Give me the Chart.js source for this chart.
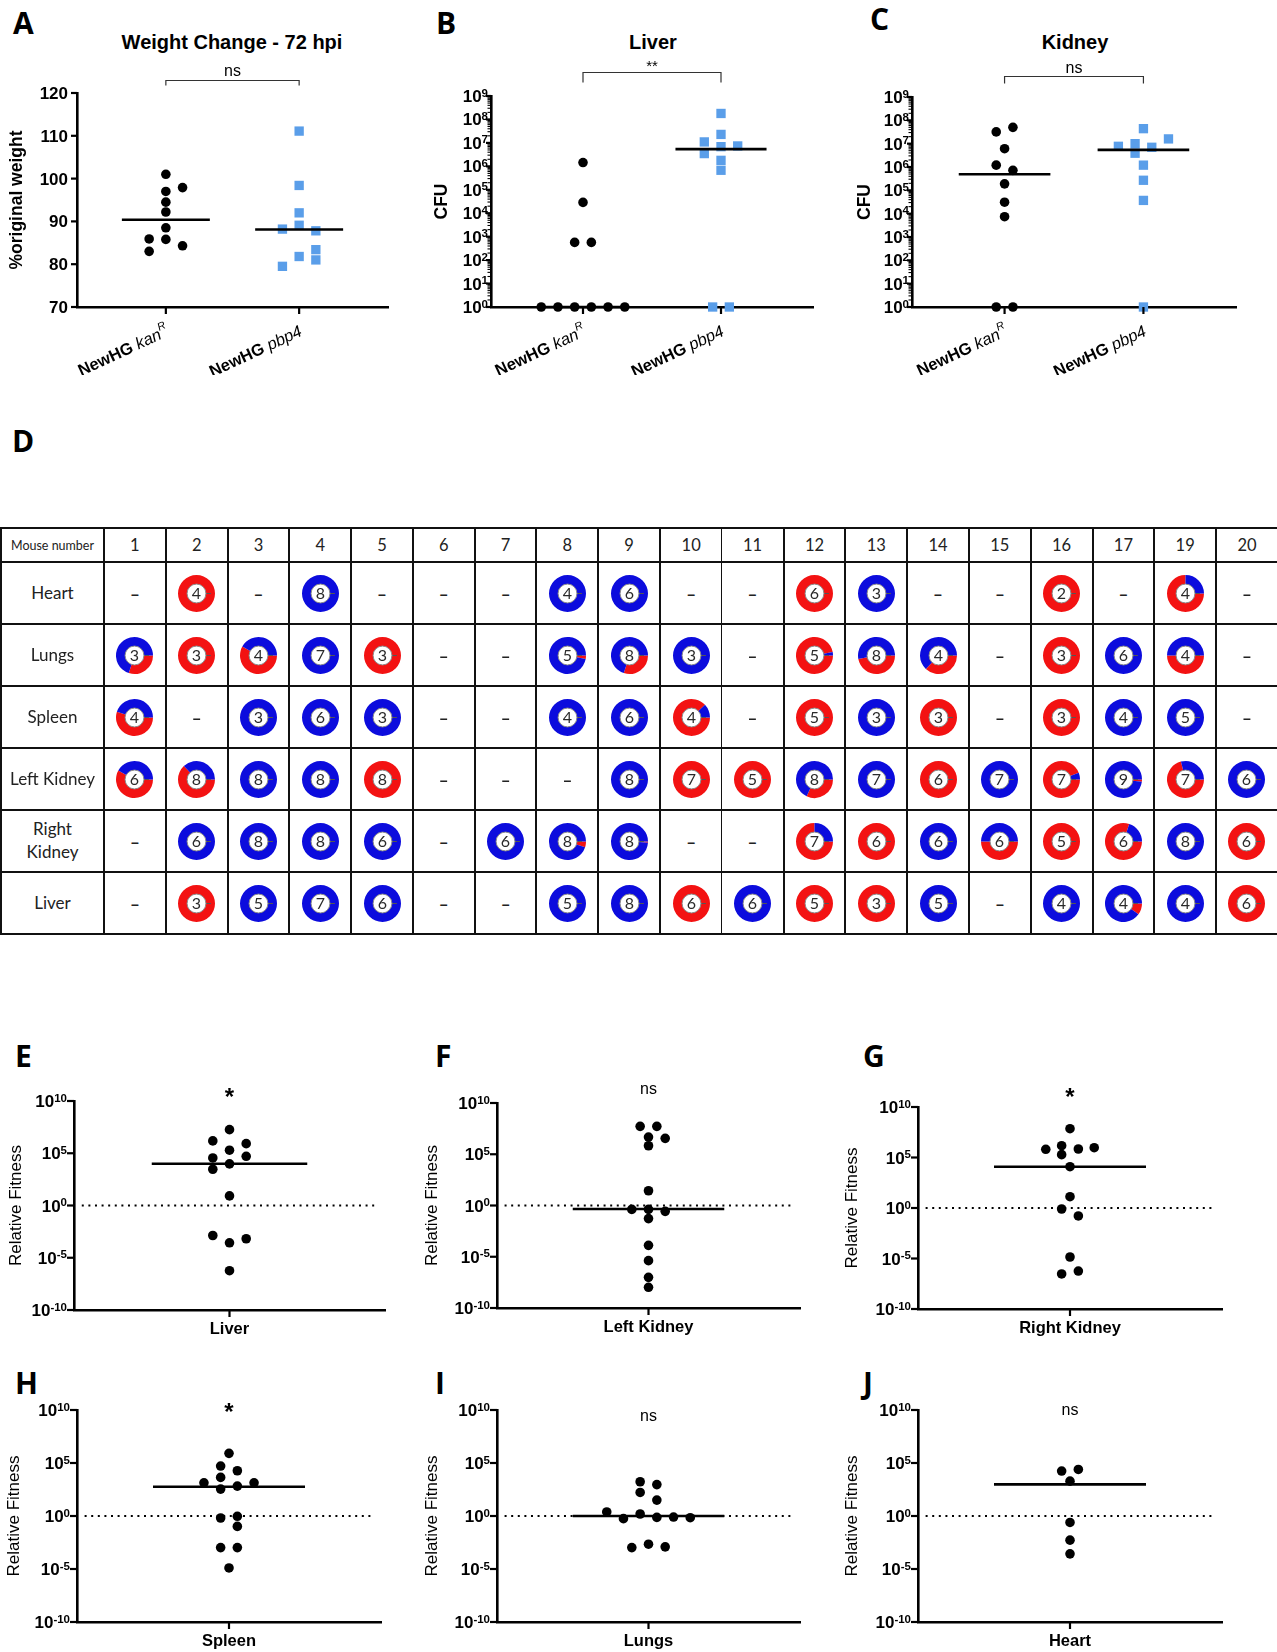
<!DOCTYPE html>
<html lang="en">
<head>
<meta charset="UTF-8" />
<title>NewHG kanR vs pbp4 – weight, CFU, colony ratios, relative fitness</title>
<script src="https://cdn.jsdelivr.net/npm/chart.js"></script>
<style>
  body { margin: 0; background: #fff; }
  #fig { position: relative; width: 1277px; height: 1652px; overflow: hidden; background: #fff;
         font-family: "Liberation Sans", Arial, sans-serif; color: #000; }
  .letter { position: absolute; font-family: "Open Sans", sans-serif; font-weight: 700; font-size: 30px; line-height: 1; }
  .title { position: absolute; white-space: nowrap; transform: translate(-50%, -50%); font-weight: 700; font-size: 20px; }
  canvas.panel { position: absolute; }
  #tbl { position: absolute; left: 0; top: 527px; width: 1277px; border-collapse: collapse; table-layout: fixed;
         font-family: Lato, "Open Sans", sans-serif; color: #222; }
  #tbl td { border: 2px solid #111; text-align: center; vertical-align: middle; padding: 0; }
  #tbl tr.head td { height: 32px; font-size: 16.5px; }
  #tbl tr.body td { height: 60px; }
  #tbl td.organ { font-size: 17px; line-height: 1.35; }
  #tbl tr.head td.corner { font-size: 12.5px; white-space: nowrap; }
  #tbl td .dash { font-weight: 700; font-size: 17px; }
  #tbl td canvas { display: block; margin: 0 auto; }
  #tbl td.thinR { border-right-width: 1px; }
  #tbl td.thinL { border-left-width: 1px; }
</style>
</head>
<body>
<div id="fig">
  <div class="letter" style="left:13px; top:8px;">A</div>
  <div class="letter" style="left:436px; top:8px;">B</div>
  <div class="letter" style="left:870px; top:4px;">C</div>
  <div class="letter" style="left:12px; top:426px;">D</div>
  <div class="letter" style="left:15px; top:1041px;">E</div>
  <div class="letter" style="left:435px; top:1041px;">F</div>
  <div class="letter" style="left:863px; top:1041px;">G</div>
  <div class="letter" style="left:15px; top:1368px;">H</div>
  <div class="letter" style="left:435px; top:1368px;">I</div>
  <div class="letter" style="left:863px; top:1368px;">J</div>

  <div class="title" style="left:232px; top:42px;">Weight Change - 72 hpi</div>
  <div class="title" style="left:653px; top:42px;">Liver</div>
  <div class="title" style="left:1075px; top:42px;">Kidney</div>

  <table id="tbl"></table>
</div>

<script>
  // ---------------- data ----------------
  // A: weight at 72 hpi, % of original weight (jitter = sideways offset in dot widths)
  const weightTicks = [70, 80, 90, 100, 110, 120];
  const weightKan = [101.0, 97.9, 97.0, 94.5, 92.2, 88.5, 85.9, 85.8, 84.3, 83.0];
  const weightKanJitter = [0, 1, 0, 0, 0, 0, -1, 0, 1, -1];
  const weightKanMedian = 90.4;
  const weightPbp4 = [111.1, 98.4, 92.0, 89.1, 88.2, 87.8, 83.4, 81.8, 81.0, 79.5];
  const weightPbp4Jitter = [0, 0, 0, 0, -1, 1, 1, 0, 1, -1];
  const weightPbp4Median = 88.1;

  // B: liver CFU
  const cfuTicks = [1, 1e1, 1e2, 1e3, 1e4, 1e5, 1e6, 1e7, 1e8, 1e9];
  const liverKan = [1.45e6, 2.9e4, 570, 570, 1, 1, 1, 1, 1, 1];
  const liverKanJitter = [0, 0, -0.5, 0.5, -2.5, -1.5, -0.5, 0.5, 1.5, 2.5];
  const liverKanMedian = 1;
  const liverPbp4 = [1.8e8, 2.3e7, 1.1e7, 6.9e6, 7.4e6, 3.5e6, 1.8e6, 6.8e5, 1, 1];
  const liverPbp4Jitter = [0, 0, -1, 0, 1, -1, 0, 0, -0.5, 0.5];
  const liverPbp4Median = 5.4e6;

  // C: kidney CFU
  const kidneyKan = [5.0e7, 3.2e7, 6.1e6, 1.2e6, 7.2e5, 1.9e5, 3.1e4, 7.4e3, 1, 1];
  const kidneyKanJitter = [0.5, -0.5, 0, -0.5, 0.5, 0, 0, 0, -0.5, 0.5];
  const kidneyKanMedian = 4.9e5;
  const kidneyPbp4 = [4.4e7, 1.6e7, 1.0e7, 7.7e6, 7.0e6, 3.9e6, 1.2e6, 2.7e5, 3.7e4, 1];
  const kidneyPbp4Jitter = [0, 1.5, -0.5, -1.5, 0.5, -0.5, 0, 0, 0, 0];
  const kidneyPbp4Median = 5.4e6;

  // D: colonies per organ per mouse (null = none) and red share of each pie
  const mice = ['1', '2', '3', '4', '5', '6', '7', '8', '9', '10', '11', '12', '13', '14', '15', '16', '17', '19', '20'];
  const organs = ['Heart', 'Lungs', 'Spleen', 'Left Kidney', 'Right<br>Kidney', 'Liver'];
  const heartN = [null, 4, null, 8, null, null, null, 4, 6, null, null, 6, 3, null, null, 2, null, 4, null];
  const heartRed = [0, 1, 0, 0, 0, 0, 0, 0, 0, 0, 0, 1, 0, 0, 0, 1, 0, 0.75, 0];
  const lungsN = [3, 3, 4, 7, 3, null, null, 5, 8, 3, null, 5, 8, 4, null, 3, 6, 4, null];
  const lungsRed = [0.3, 1, 0.58, 0, 1, 0, 0, 0.03, 0.3, 0, 0, 0.97, 0.47, 0.37, 0, 1, 0, 0.5, 0];
  const spleenN = [4, null, 3, 6, 3, null, null, 4, 6, 4, null, 5, 3, 3, null, 3, 4, 5, null];
  const spleenRed = [0.55, 0, 0, 0, 0, 0, 0, 0, 0, 0.88, 0, 1, 0, 1, 0, 1, 0, 0, 0];
  const leftKidneyN = [6, 8, 8, 8, 8, null, null, null, 8, 7, 5, 8, 7, 6, 7, 7, 9, 7, 6];
  const leftKidneyRed = [0.58, 0.63, 0, 0, 1, 0, 0, 0, 0, 1, 1, 0.32, 0, 1, 0, 0.94, 0.02, 0.71, 0];
  const rightKidneyN = [null, 6, 8, 8, 6, null, 6, 8, 8, null, null, 7, 6, 6, 6, 5, 6, 8, 6];
  const rightKidneyRed = [0, 0, 0, 0, 0, 0, 0, 0.05, 0.01, 0, 0, 0.75, 1, 0, 0.5, 1, 0.8, 0, 1];
  const liverN = [null, 3, 5, 7, 6, null, null, 5, 8, 6, 6, 5, 3, 5, null, 4, 4, 4, 6];
  const liverRed = [0, 1, 0, 0, 0, 0, 0, 0, 0, 1, 0, 1, 1, 0, 0, 0, 0.1, 0, 1];

  // E-J: relative fitness, stored as log10 values
  const fitnessTicks = [1e-10, 1e-5, 1, 1e5, 1e10];
  const liverFitLog = [7.26, 6.18, 5.92, 5.29, 4.71, 4.55, 3.98, 3.47, 0.92, -2.87, -3.18, -3.57, -6.24];
  const liverFitJitter = [0, -1, 1, 0, 1, -1, 0, -1, 0, -1, 1, 0, 0];
  const liverFitMedianLog = 4.0;
  const leftKidneyFitLog = [7.72, 7.72, 6.68, 6.55, 5.83, 1.44, -0.38, -0.38, -0.57, -1.28, -3.89, -5.38, -7.01, -7.98];
  const leftKidneyFitJitter = [-0.5, 0.5, 0, 1, 0, 0, -1, 0, 1, 0, 0, 0, 0, 0];
  const leftKidneyFitMedianLog = -0.34;
  const rightKidneyFitLog = [7.85, 6.17, 5.81, 5.84, 5.97, 5.28, 4.09, 1.12, -0.10, -0.79, -4.85, -6.24, -6.53];
  const rightKidneyFitJitter = [0, -0.5, -1.45, 0.5, 1.45, -0.5, 0, 0, -0.5, 0.5, 0, 0.5, -0.5];
  const rightKidneyFitMedianLog = 4.09;
  const spleenFitLog = [5.91, 4.71, 4.27, 3.64, 3.13, 3.13, 2.82, 2.54, -0.03, -0.19, -0.98, -2.98, -2.98, -4.9];
  const spleenFitJitter = [0, -0.5, 0.5, -0.5, -1.5, 1.5, 0.5, -0.5, 0.5, -0.5, 0.5, -0.5, 0.5, 0];
  const spleenFitMedianLog = 2.76;
  const lungsFitLog = [3.23, 2.96, 2.22, 1.5, 0.38, 0.19, -0.25, -0.13, -0.1, -0.16, -2.66, -2.98, -2.91];
  const lungsFitJitter = [-0.5, 0.5, -0.5, 0.5, -2.5, -0.5, -1.5, 0.5, 1.5, 2.5, 0, -1, 1];
  const lungsFitMedianLog = 0;
  const heartFitLog = [4.24, 4.39, 3.29, -0.61, -2.28, -3.57];
  const heartFitJitter = [-0.5, 0.5, 0, 0, 0, 0];
  const heartFitMedianLog = 2.98;

  // ---------------- drawing ----------------
  const FONT = '"Liberation Sans", Arial, sans-serif';
  const BLACK = '#000000';
  const SQUARE_BLUE = '#5a9ee9';
  const PIE_RED = '#f31212';
  const PIE_BLUE = '#0c0cdd';
  const STEP_PX = 16.7;
  const fig = document.getElementById('fig');
  const pow10 = v => Math.pow(10, v);

  const kanLabel = [
    {t: 'NewHG ', f: 'bold 16.5px ' + FONT},
    {t: 'kan', f: 'italic 16.5px ' + FONT},
    {t: 'R', f: 'italic 11px ' + FONT, dy: -8}
  ];
  const pbpLabel = [
    {t: 'NewHG ', f: 'bold 16.5px ' + FONT},
    {t: 'pbp4', f: 'italic 16.5px ' + FONT}
  ];

  function drawParts(ctx, parts, x, y, align) {
    let w = 0;
    parts.forEach(p => { ctx.font = p.f; w += ctx.measureText(p.t).width; });
    let cx = align === 'right' ? x - w : align === 'center' ? x - w / 2 : x;
    ctx.textAlign = 'left';
    parts.forEach(p => {
      ctx.font = p.f;
      ctx.fillText(p.t, cx, y + (p.dy || 0));
      cx += ctx.measureText(p.t).width;
    });
  }

  function panelDeco(cfg) {
    return {
      id: 'panelDeco',
      afterDraw(chart) {
        const ctx = chart.ctx, xs = chart.scales.x, ys = chart.scales.y, ca = chart.chartArea;
        const top = cfg.box.top, left = cfg.box.left;
        const seg = (x1, y1, x2, y2, w) => {
          ctx.lineWidth = w; ctx.beginPath(); ctx.moveTo(x1, y1); ctx.lineTo(x2, y2); ctx.stroke();
        };
        ctx.save();
        ctx.fillStyle = '#000'; ctx.strokeStyle = '#000';

        // minor log ticks
        if (cfg.minorTicks) {
          const lo = Math.round(Math.log10(cfg.yMin)), hi = Math.round(Math.log10(cfg.yMax));
          for (let d = lo; d < hi; d++) {
            for (let k = 2; k <= 9; k++) {
              const y = ys.getPixelForValue(k * pow10(d));
              seg(ca.left - 3.5, y, ca.left, y, 1.1);
            }
          }
        }
        // major ticks and labels
        ctx.textBaseline = 'alphabetic';
        cfg.yTicks.forEach(v => {
          const y = ys.getPixelForValue(v);
          seg(ca.left - cfg.tickLen, y, ca.left, y, 2.2);
          let parts;
          if (cfg.yType === 'logarithmic') {
            parts = [{t: '10', f: 'bold 17px ' + FONT, dy: 6},
                     {t: String(Math.round(Math.log10(v))), f: 'bold 11.5px ' + FONT, dy: 0.5}];
          } else {
            parts = [{t: String(v), f: 'bold 17px ' + FONT, dy: 6}];
          }
          drawParts(ctx, parts, ca.left - cfg.labelGap, y, 'right');
        });

        // category ticks and labels
        cfg.cats.forEach((cat, i) => {
          const x = xs.getPixelForValue(cat);
          seg(x, ca.bottom, x, ca.bottom + 7, 2.2);
          if (cfg.rotateLabels) {
            ctx.save();
            ctx.translate(x + 4, ca.bottom + 28);
            ctx.rotate(-25 * Math.PI / 180);
            drawParts(ctx, cfg.catLabels[i], 0, 0, 'right');
            ctx.restore();
          } else {
            drawParts(ctx, cfg.catLabels[i], x, ca.bottom + 24, 'center');
          }
        });

        // y title
        ctx.save();
        ctx.translate(cfg.yTitle.x - left, (ca.top + ca.bottom) / 2);
        ctx.rotate(-Math.PI / 2);
        ctx.font = cfg.yTitle.font; ctx.textAlign = 'center'; ctx.textBaseline = 'middle';
        ctx.fillText(cfg.yTitle.text, 0, 0);
        ctx.restore();

        // significance bracket and label
        let midX = xs.getPixelForValue(cfg.cats[0]);
        if (cfg.bracket) {
          const x1 = xs.getPixelForValue(cfg.cats[0]), x2 = xs.getPixelForValue(cfg.cats[1]);
          const y = cfg.bracket.y - top + 0.5;
          midX = (x1 + x2) / 2;
          ctx.strokeStyle = '#333'; ctx.lineWidth = 1.2;
          ctx.beginPath();
          ctx.moveTo(x1, y + cfg.bracket.drop); ctx.lineTo(x1, y); ctx.lineTo(x2, y); ctx.lineTo(x2, y + cfg.bracket.drop);
          ctx.stroke();
        }
        ctx.font = cfg.sig.font; ctx.textAlign = 'center'; ctx.textBaseline = 'middle';
        ctx.fillText(cfg.sig.text, midX, cfg.sig.y - top);
        ctx.restore();
      }
    };
  }

  function makePanel(cfg) {
    const c = document.createElement('canvas');
    c.className = 'panel';
    c.width = cfg.box.width; c.height = cfg.box.height;
    c.style.left = cfg.box.left + 'px'; c.style.top = cfg.box.top + 'px';
    fig.appendChild(c);
    const pxPerUnit = (cfg.plot.right - cfg.plot.left) / (cfg.xMax - cfg.xMin);

    const datasets = [];
    cfg.groups.forEach(g => {
      datasets.push({
        type: 'scatter',
        data: g.values.map((v, i) => ({x: g.cat + g.jitter[i] * STEP_PX / pxPerUnit, y: v})),
        pointStyle: g.shape, pointRadius: g.shape === 'rect' ? 6.6 : 4.8,
        backgroundColor: g.color, borderWidth: 0, clip: false, order: 2
      });
      datasets.push({
        type: 'line',
        data: [{x: g.cat - cfg.medianHalf, y: g.median}, {x: g.cat + cfg.medianHalf, y: g.median}],
        borderColor: BLACK, borderWidth: 2.6, pointRadius: 0, clip: false, order: 1
      });
    });
    if (cfg.refLine) {
      datasets.push({
        type: 'line',
        data: [{x: cfg.refLine.from, y: cfg.refLine.y}, {x: cfg.refLine.to, y: cfg.refLine.y}],
        borderColor: BLACK, borderWidth: 2, borderDash: [2, 4.6], pointRadius: 0, order: 3
      });
    }

    new Chart(c, {
      type: 'scatter',
      data: {datasets},
      options: {
        responsive: false, animation: false, events: [],
        layout: {padding: {top: cfg.plot.top - cfg.box.top, right: cfg.box.left + cfg.box.width - cfg.plot.right, left: 0, bottom: 0}},
        plugins: {legend: {display: false}, tooltip: {enabled: false}},
        scales: {
          x: {
            type: 'linear', min: cfg.xMin, max: cfg.xMax,
            ticks: {display: false}, grid: {display: false},
            border: {display: true, color: BLACK, width: 2.6},
            afterFit: s => { s.height = cfg.box.top + cfg.box.height - cfg.plot.bottom; }
          },
          y: {
            type: cfg.yType, min: cfg.yMin, max: cfg.yMax,
            ticks: {display: false}, grid: {display: false},
            border: {display: true, color: BLACK, width: 2.6},
            afterFit: s => { s.width = cfg.plot.left - cfg.box.left; }
          }
        }
      },
      plugins: [panelDeco(cfg)]
    });
  }

  // ----- A, B, C -----
  const groupPanel = (box, plot, yType, yMin, yMax, yTicks, extra) => Object.assign({
    box, plot, yType, yMin, yMax, yTicks,
    xMin: 1 / 3, xMax: 8 / 3, cats: [1, 2], catLabels: [kanLabel, pbpLabel], rotateLabels: true, medianHalf: 0.33
  }, extra);

  makePanel(groupPanel({left: 0, top: 55, width: 420, height: 320}, {left: 77, right: 388, top: 93, bottom: 307},
    'linear', 70, 120, weightTicks, {
      tickLen: 6, labelGap: 9,
      groups: [
        {cat: 1, values: weightKan, jitter: weightKanJitter, median: weightKanMedian, shape: 'circle', color: BLACK},
        {cat: 2, values: weightPbp4, jitter: weightPbp4Jitter, median: weightPbp4Median, shape: 'rect', color: SQUARE_BLUE}
      ],
      yTitle: {text: '%original weight', x: 17, font: 'bold 17.5px ' + FONT},
      bracket: {y: 80, drop: 5}, sig: {text: 'ns', y: 72, font: '16px ' + FONT}
    }));

  makePanel(groupPanel({left: 420, top: 55, width: 420, height: 320}, {left: 491, right: 813, top: 96, bottom: 307},
    'logarithmic', 1, 1e9, cfuTicks, {
      tickLen: 5, labelGap: 3, minorTicks: true,
      groups: [
        {cat: 1, values: liverKan, jitter: liverKanJitter, median: liverKanMedian, shape: 'circle', color: BLACK},
        {cat: 2, values: liverPbp4, jitter: liverPbp4Jitter, median: liverPbp4Median, shape: 'rect', color: SQUARE_BLUE}
      ],
      yTitle: {text: 'CFU', x: 442, font: 'bold 17.5px ' + FONT},
      bracket: {y: 72, drop: 10}, sig: {text: '**', y: 67, font: '15px ' + FONT}
    }));

  makePanel(groupPanel({left: 840, top: 55, width: 437, height: 320}, {left: 912, right: 1236, top: 97, bottom: 307},
    'logarithmic', 1, 1e9, cfuTicks, {
      tickLen: 5, labelGap: 3, minorTicks: true,
      groups: [
        {cat: 1, values: kidneyKan, jitter: kidneyKanJitter, median: kidneyKanMedian, shape: 'circle', color: BLACK},
        {cat: 2, values: kidneyPbp4, jitter: kidneyPbp4Jitter, median: kidneyPbp4Median, shape: 'rect', color: SQUARE_BLUE}
      ],
      yTitle: {text: 'CFU', x: 865, font: 'bold 17.5px ' + FONT},
      bracket: {y: 76, drop: 7}, sig: {text: 'ns', y: 69, font: '16px ' + FONT}
    }));

  // ----- E to J -----
  function fitnessPanel(box, plot, organ, logs, jitter, medianLog, sig, titleX) {
    makePanel({
      box, plot, yType: 'logarithmic', yMin: 1e-10, yMax: 1e10, yTicks: fitnessTicks,
      tickLen: 7, labelGap: 7, xMin: 0, xMax: 2, cats: [1],
      catLabels: [[{t: organ, f: 'bold 16.5px ' + FONT}]], medianHalf: 0.5,
      groups: [{cat: 1, values: logs.map(pow10), jitter, median: pow10(medianLog), shape: 'circle', color: BLACK}],
      refLine: {y: 1, from: 0.05, to: 1.96},
      yTitle: {text: 'Relative Fitness', x: titleX, font: '17px ' + FONT},
      sig
    });
  }
  const star = y => ({text: '*', y, font: 'bold 24px ' + FONT});
  const ns = y => ({text: 'ns', y, font: '16px ' + FONT});

  fitnessPanel({left: 0, top: 1075, width: 420, height: 275}, {left: 74, right: 385, top: 1101, bottom: 1310},
    'Liver', liverFitLog, liverFitJitter, liverFitMedianLog, star(1098), 16);
  fitnessPanel({left: 420, top: 1075, width: 420, height: 275}, {left: 497, right: 800, top: 1103, bottom: 1308},
    'Left Kidney', leftKidneyFitLog, leftKidneyFitJitter, leftKidneyFitMedianLog, ns(1090), 432);
  fitnessPanel({left: 840, top: 1075, width: 437, height: 275}, {left: 918, right: 1222, top: 1107, bottom: 1309},
    'Right Kidney', rightKidneyFitLog, rightKidneyFitJitter, rightKidneyFitMedianLog, star(1098), 852);
  fitnessPanel({left: 0, top: 1395, width: 420, height: 257}, {left: 77, right: 381, top: 1410, bottom: 1622},
    'Spleen', spleenFitLog, spleenFitJitter, spleenFitMedianLog, star(1413), 14);
  fitnessPanel({left: 420, top: 1395, width: 420, height: 257}, {left: 497, right: 800, top: 1410, bottom: 1622},
    'Lungs', lungsFitLog, lungsFitJitter, lungsFitMedianLog, ns(1417), 432);
  fitnessPanel({left: 840, top: 1395, width: 437, height: 257}, {left: 918, right: 1222, top: 1410, bottom: 1622},
    'Heart', heartFitLog, heartFitJitter, heartFitMedianLog, ns(1411), 852);

  // ----- D: table of colony pies -----
  function donutDeco(n) {
    return {
      id: 'donutDeco',
      afterDatasetsDraw(chart) {
        const arc = chart.getDatasetMeta(0).data[0];
        const ctx = chart.ctx, x = arc.x, y = arc.y, r0 = arc.innerRadius, r1 = arc.outerRadius, a = arc.startAngle;
        ctx.save();
        ctx.strokeStyle = '#555'; ctx.lineWidth = 1;
        ctx.beginPath();
        ctx.moveTo(x + r0 * Math.cos(a), y + r0 * Math.sin(a));
        ctx.lineTo(x + (r0 + (r1 - r0) * 0.55) * Math.cos(a), y + (r0 + (r1 - r0) * 0.55) * Math.sin(a));
        ctx.stroke();
        ctx.strokeStyle = '#8c8c8c';
        ctx.beginPath(); ctx.arc(x, y, r0, 0, Math.PI * 2); ctx.stroke();
        ctx.fillStyle = '#2a2a2a'; ctx.font = '16px Lato, sans-serif';
        ctx.textAlign = 'center'; ctx.textBaseline = 'middle';
        ctx.fillText(String(n), x, y + 0.5);
        ctx.restore();
      }
    };
  }

  function makeDonut(cell, n, red) {
    const c = document.createElement('canvas');
    c.width = 39; c.height = 39;
    cell.appendChild(c);
    new Chart(c, {
      type: 'doughnut',
      data: {datasets: [{data: [red, 1 - red], backgroundColor: [PIE_RED, PIE_BLUE], borderWidth: 0}]},
      options: {
        responsive: false, animation: false, events: [], cutout: '51%', rotation: 90,
        layout: {padding: 1},
        plugins: {legend: {display: false}, tooltip: {enabled: false}}
      },
      plugins: [donutDeco(n)]
    });
  }

  const counts = [heartN, lungsN, spleenN, leftKidneyN, rightKidneyN, liverN];
  const redShares = [heartRed, lungsRed, spleenRed, leftKidneyRed, rightKidneyRed, liverRed];
  const tbl = document.getElementById('tbl');
  const colgroup = document.createElement('colgroup');
  colgroup.innerHTML = '<col style="width:103px">' + mice.map(() => '<col style="width:61.79px">').join('');
  tbl.appendChild(colgroup);

  const edgeClass = j => (mice[j] === '10' ? 'thinR' : mice[j] === '11' ? 'thinL' : '');
  const head = tbl.insertRow();
  head.className = 'head';
  const corner = head.insertCell(); corner.className = 'corner'; corner.textContent = 'Mouse number';
  mice.forEach((m, j) => { const td = head.insertCell(); td.textContent = m; td.className = edgeClass(j); });

  organs.forEach((organ, i) => {
    const tr = tbl.insertRow();
    tr.className = 'body';
    const lab = tr.insertCell(); lab.className = 'organ'; lab.innerHTML = organ;
    mice.forEach((m, j) => {
      const td = tr.insertCell();
      td.className = edgeClass(j);
      const n = counts[i][j];
      if (n === null) td.innerHTML = '<span class="dash">–</span>';
      else makeDonut(td, n, redShares[i][j]);
    });
  });
</script>
</body>
</html>
